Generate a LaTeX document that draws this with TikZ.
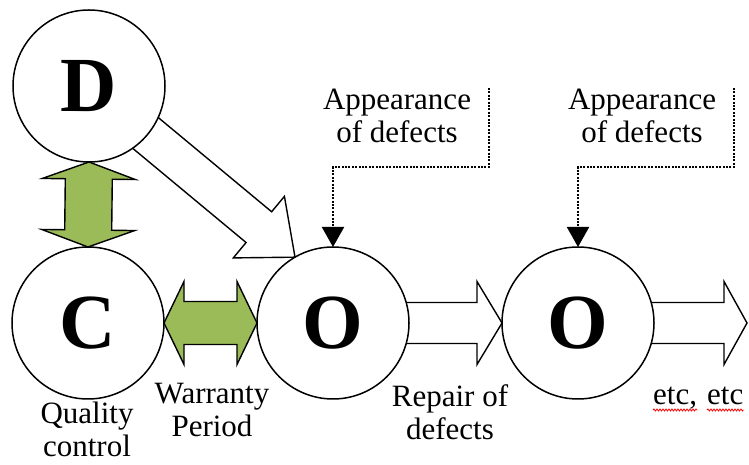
\documentclass[tikz,border=0pt]{standalone}
\usepackage{fontspec}
\setmainfont{Liberation Serif}
\usetikzlibrary{arrows.meta,calc,decorations.pathmorphing}
\pgfdeclarelayer{back}
\pgfsetlayers{back,main}
\definecolor{warrgreen}{HTML}{9BBB59}

% block arrow: style, start, tip, half shaft, half head, head length
\newcommand{\blockarrow}[6]{%
  \coordinate (hb) at ($(#3)!#6!(#2)$);
  \draw[#1] ($(#2)!#4!90:(#3)$) -- ($(hb)!#4!90:(#3)$) -- ($(hb)!#5!90:(#3)$) -- (#3)
    -- ($(hb)!#5!-90:(#3)$) -- ($(hb)!#4!-90:(#3)$) -- ($(#2)!#4!-90:(#3)$) -- cycle;}
% same, with a head at both ends
\newcommand{\doublearrow}[6]{%
  \coordinate (ha) at ($(#2)!#6!(#3)$);
  \coordinate (hb) at ($(#3)!#6!(#2)$);
  \draw[#1] (#2) -- ($(ha)!#5!90:(#3)$) -- ($(ha)!#4!90:(#3)$) -- ($(hb)!#4!90:(#3)$)
    -- ($(hb)!#5!90:(#3)$) -- (#3) -- ($(hb)!#5!-90:(#3)$) -- ($(hb)!#4!-90:(#3)$)
    -- ($(ha)!#4!-90:(#3)$) -- ($(ha)!#5!-90:(#3)$) -- cycle;}

\begin{document}
\begin{tikzpicture}[x=1pt, y=1pt,
  stage/.style={circle, draw, line width=1.5pt, fill=white, minimum size=152pt, inner sep=0pt, outer sep=0pt, font=\fontsize{78}{80}\selectfont\bfseries},
  lbl/.style={align=center, inner sep=0pt, anchor=north, font=\fontsize{31}{33}\selectfont},
  hollow/.style={draw, fill=white, line width=1.4pt},
  green/.style={draw, fill=warrgreen, line width=1.4pt},
  defect/.style={line width=2pt, dash pattern=on 2pt off 1.4pt, -{Triangle[length=20pt, width=22pt]}},
  squiggle/.style={red, line width=0.8pt, decorate, decoration={snake, amplitude=1pt, segment length=3pt}}]
	\useasboundingbox (0,0) rectangle (749,465);
	\node[stage] (D) at (89,379) {D};
	\node[stage] (C) at (88,142) {C};
	\node[stage] (O1) at (333,142) {O};
	\node[stage] (O2) at (578,142) {O};
	\coordinate (tail) at (747,142);
	\begin{pgfonlayer}{back}
		\blockarrow{hollow}{D}{O1.120}{20pt}{40pt}{47pt}
		\blockarrow{hollow}{O1}{O2.west}{20.5pt}{41.5pt}{25pt}
		\blockarrow{hollow}{O2}{tail}{20.5pt}{41.5pt}{23pt}
	\end{pgfonlayer}
	\doublearrow{green}{D.south}{C.north}{23.5pt}{46.5pt}{17pt}
	\doublearrow{green}{C.east}{O1.west}{21.5pt}{41.5pt}{20pt}
	% labels
	\node[lbl] (qc) at (87,63) {Quality\\control};
	\node[lbl] (wp) at (212,82) {Warranty\\Period};
	\node[lbl] (rd) at (450,81) {Repair of\\defects};
	\node[lbl, anchor=base west] (etc1) at (653,60) {etc,};
	\node[lbl, anchor=base west] (etc2) at (707,60) {etc};
	\draw[squiggle] ([yshift=-5pt]etc1.base west) -- ([yshift=-5pt]etc1.base east);
	\draw[squiggle] ([yshift=-5pt]etc2.base west) -- ([yshift=-5pt]etc2.base east);
	\node[lbl] (ad1) at (397,376.5) {Appearance\\of defects};
	\node[lbl] (ad2) at (642,376.5) {Appearance\\of defects};
	\coordinate (k1) at (489,377);
	\coordinate (k2) at (734,377);
	\draw[defect] (k1) |- ([yshift=80pt]O1.north) -- (O1.north);
	\draw[defect] (k2) |- ([yshift=80pt]O2.north) -- (O2.north);
\end{tikzpicture}
\end{document}
